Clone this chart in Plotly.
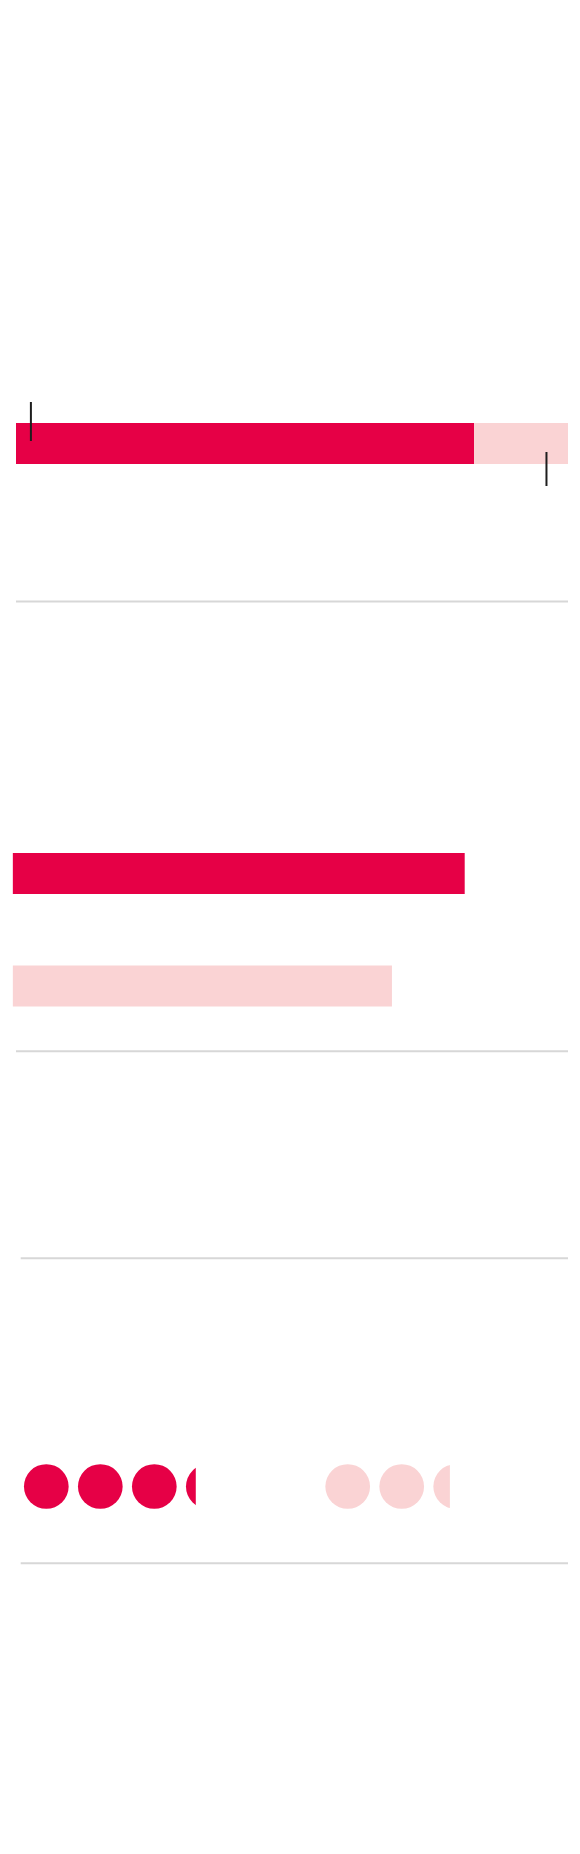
import math
import plotly.graph_objects as go

# --- data ---
# progress bar (percent of full scale)
progress_value = 83
progress_max = 100
progress_markers = [2.7, 96.1]        # small tick markers (above / below the bar)

# comparison bars (percent of full scale)
compare_names = ["current", "previous"]
compare_values = [81.4, 68.3]

# pictograms (number of dots, last one partially filled)
picto_names = ["current", "previous"]
picto_values = [3.22, 2.37]

RED = "#E60046"
PINK = "#FAD3D4"
GRID = "#D7D7D7"

# page has an 8px body margin, so the figure itself is a bit smaller
OFF = 8
W, H = 580 - 2 * OFF, 1854 - 2 * OFF


def xdom(a, b):
    # screen px -> paper fraction
    return [(a - OFF) / W, (b - OFF) / W]


def ydom(top, bottom):
    return [1 - (bottom - OFF) / H, 1 - (top - OFF) / H]


fig = go.Figure()

# ---- section 1: progress bar with markers ----
fig.add_trace(go.Bar(
    x=[progress_value], y=[0], orientation="h", width=0.745,
    marker=dict(color=RED, line=dict(width=0)),
    xaxis="x", yaxis="y", showlegend=False, hoverinfo="skip"
))
fig.add_trace(go.Bar(
    x=[progress_max - progress_value], y=[0], base=[progress_value],
    orientation="h", width=0.745,
    marker=dict(color=PINK, line=dict(width=0)),
    xaxis="x", yaxis="y", showlegend=False, hoverinfo="skip"
))
tick_spans = [(0.045, 0.755), (-0.155, -0.773)]
for m, (y0, y1) in zip(progress_markers, tick_spans):
    fig.add_trace(go.Scatter(
        x=[m, m], y=[y0, y1], mode="lines",
        line=dict(color="#1E1E1E", width=2),
        xaxis="x", yaxis="y", showlegend=False, hoverinfo="skip"
    ))

# ---- section 2: two comparison bars ----
fig.add_trace(go.Bar(
    x=compare_values, y=[0, -1], orientation="h", width=0.364,
    marker=dict(color=[RED, PINK], line=dict(width=0)),
    text=compare_names, textposition="none",
    xaxis="x2", yaxis="y2", showlegend=False, hoverinfo="skip"
))

# ---- section 3: dot pictograms, clipped at the fractional value ----
step = 54.0            # px between dot centres
diam = 44.7            # dot diameter in px
r_u = diam / 2 / step  # radius in axis units
origins = [46.3, 347.7]   # px centre of first dot
starts = [OFF, 300.0]     # left px of each pictogram area
colors = [RED, PINK]
layout_axes = {}
for i, (v, c) in enumerate(zip(picto_values, colors)):
    n = math.ceil(v)
    frac = v - math.floor(v)
    end_u = (n - 1) - r_u + frac * 2 * r_u
    start_u = (starts[i] - origins[i]) / step
    right_px = origins[i] + end_u * step
    xa = "x%d" % (i + 3)
    ya = "y%d" % (i + 3)
    fig.add_trace(go.Scatter(
        x=list(range(n)), y=[0] * n, mode="markers",
        marker=dict(size=diam, color=c, line=dict(width=0)),
        cliponaxis=True, name=picto_names[i],
        xaxis=xa, yaxis=ya, showlegend=False, hoverinfo="skip"
    ))
    layout_axes["xaxis%d" % (i + 3)] = dict(
        domain=xdom(starts[i], right_px), range=[start_u, end_u],
        visible=False, fixedrange=True, anchor=ya)
    layout_axes["yaxis%d" % (i + 3)] = dict(
        domain=ydom(1486.5 - 30, 1486.5 + 30), range=[-1, 1],
        visible=False, fixedrange=True, anchor=xa)

hidden = dict(visible=False, fixedrange=True, showgrid=False, zeroline=False)

fig.update_layout(
    width=W, height=H,
    margin=dict(l=0, r=0, t=0, b=0),
    paper_bgcolor="white", plot_bgcolor="rgba(0,0,0,0)",
    barmode="overlay", showlegend=False,
    xaxis=dict(domain=xdom(16, 568), range=[0, progress_max], anchor="y", **hidden),
    yaxis=dict(domain=ydom(388.5, 498.5), range=[-1, 1], anchor="x", **hidden),
    xaxis2=dict(domain=xdom(12.6, 568), range=[0, 100], anchor="y2", **hidden),
    yaxis2=dict(domain=ydom(813.5, 1046), range=[-1.5333, 0.5333], anchor="x2", **hidden),
    **layout_axes
)

# separator rules
for y_px, x0_px in [(601.5, 16), (1051.3, 16), (1258.3, 20.7), (1563.3, 20.7)]:
    x0, x1 = xdom(x0_px, 568)
    yy = ydom(y_px, y_px)[0]
    fig.add_shape(type="line", xref="paper", yref="paper",
                  x0=x0, x1=x1, y0=yy, y1=yy,
                  line=dict(color=GRID, width=2))

fig.write_html("out.html", config={"displayModeBar": False})
